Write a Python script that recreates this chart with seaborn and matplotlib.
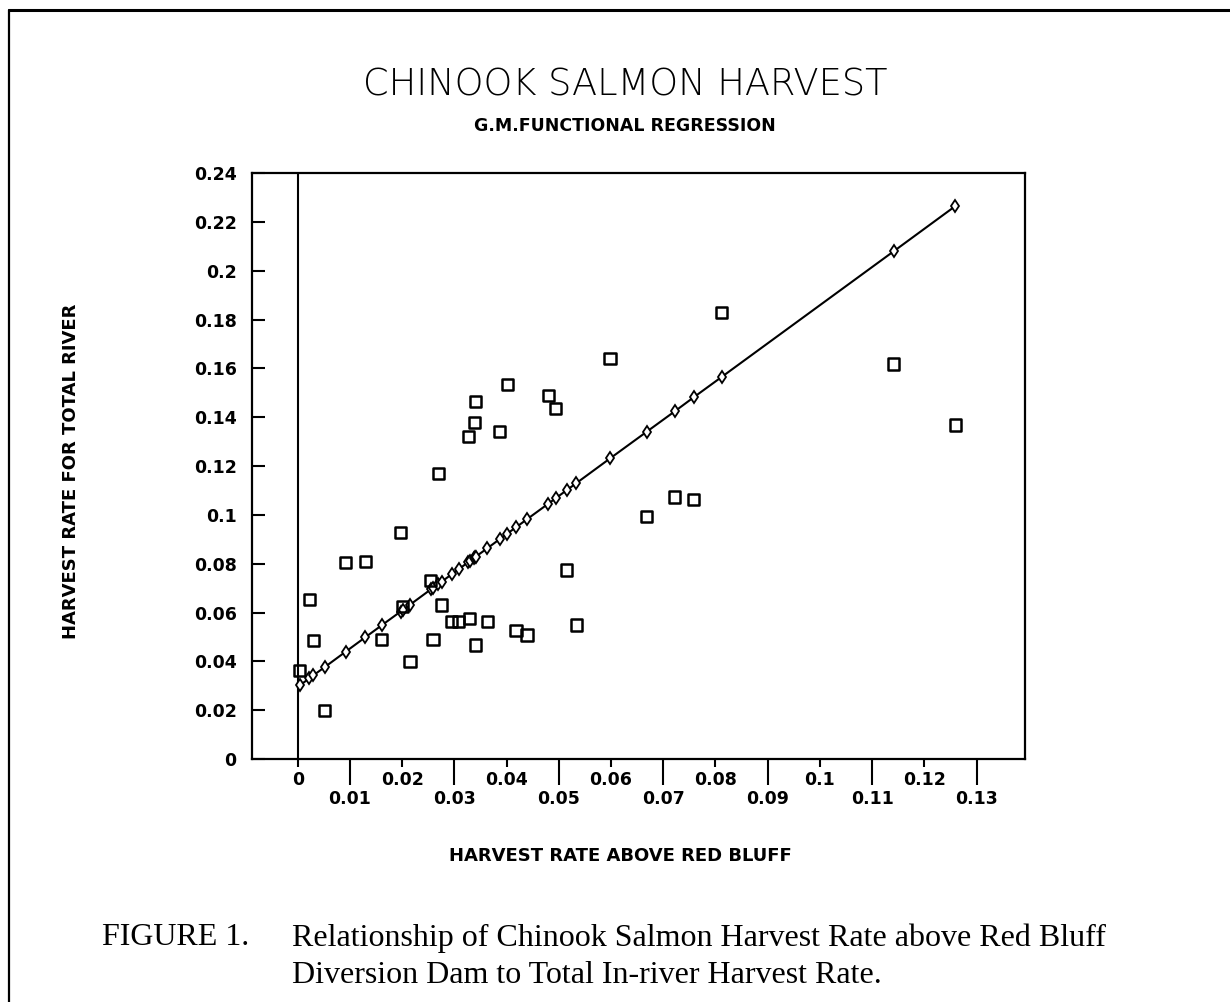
import seaborn as sns
import matplotlib.pyplot as plt
from matplotlib.lines import Line2D

# harvest rate above Red Bluff (x) and total river harvest rate (y)
above_red_bluff = [0.0004, 0.0022, 0.0030, 0.0052, 0.0092, 0.0129, 0.0161, 0.0197,
                   0.0201, 0.0215, 0.0255, 0.0259, 0.0269, 0.0276, 0.0295, 0.0308,
                   0.0327, 0.0329, 0.0338, 0.0341, 0.0340, 0.0363, 0.0387, 0.0401,
                   0.0418, 0.0439, 0.0480, 0.0494, 0.0515, 0.0533, 0.0598, 0.0668,
                   0.0722, 0.0758, 0.0812, 0.1141, 0.1259]
total_river = [0.0364, 0.0655, 0.0487, 0.0198, 0.0804, 0.0808, 0.0491, 0.0929,
               0.0625, 0.0400, 0.0730, 0.0490, 0.1170, 0.0631, 0.0562, 0.0562,
               0.1320, 0.0576, 0.1380, 0.1466, 0.0467, 0.0562, 0.1343, 0.1534,
               0.0526, 0.0508, 0.1490, 0.1437, 0.0774, 0.0549, 0.1641, 0.0995,
               0.1073, 0.1063, 0.1830, 0.1618, 0.1368]
# G.M. functional regression predictions (diamonds on the line)
fitted = [0.0302, 0.0330, 0.0343, 0.0377, 0.0440, 0.0498, 0.0548, 0.0604,
          0.0610, 0.0632, 0.0695, 0.0701, 0.0716, 0.0727, 0.0757, 0.0777,
          0.0807, 0.0810, 0.0824, 0.0829, 0.0827, 0.0863, 0.0901, 0.0923,
          0.0949, 0.0982, 0.1046, 0.1068, 0.1101, 0.1129, 0.1231, 0.1340,
          0.1424, 0.1481, 0.1565, 0.2079, 0.2264]

x_major = [0, 0.02, 0.04, 0.06, 0.08, 0.10, 0.12]
x_major_labels = ['0', '0.02', '0.04', '0.06', '0.08', '0.1', '0.12']
x_minor = [0.01, 0.03, 0.05, 0.07, 0.09, 0.11, 0.13]
x_minor_labels = ['0.01', '0.03', '0.05', '0.07', '0.09', '0.11', '0.13']
y_ticks = [0, 0.02, 0.04, 0.06, 0.08, 0.10, 0.12, 0.14, 0.16, 0.18, 0.20, 0.22, 0.24]
y_labels = ['0', '0.02', '0.04', '0.06', '0.08', '0.1', '0.12', '0.14', '0.16',
            '0.18', '0.2', '0.22', '0.24']

sns.set_style("white")
plt.rcParams['font.family'] = ['DejaVu Sans']
plt.rcParams['text.color'] = 'black'

fig = plt.figure(figsize=(12.3, 10.02), dpi=100)
ax = fig.add_axes([0.2049, 0.2425, 0.6285, 0.5848])

ax.axvline(0, color='black', lw=1.5, zorder=1)

sns.lineplot(x=above_red_bluff, y=fitted, ax=ax, color='black', lw=1.5,
             estimator=None, sort=True, marker='d', markersize=6.5,
             markerfacecolor='white', markeredgecolor='black', markeredgewidth=1.3)
sns.scatterplot(x=above_red_bluff, y=total_river, ax=ax, marker='s', s=64,
                facecolors='none', edgecolor='black', linewidth=1.8, zorder=3)

ax.set_xlim(-0.00876, 0.1393)
ax.set_ylim(0, 0.24)

tick_font = dict(fontsize=12.5, fontweight='bold', color='black')
ax.set_xticks(x_major)
ax.set_xticklabels(x_major_labels, **tick_font)
ax.set_xticks(x_minor, minor=True)
ax.set_xticklabels(x_minor_labels, minor=True, **tick_font)
ax.set_yticks(y_ticks)
ax.set_yticklabels(y_labels, **tick_font)

ax.tick_params(axis='x', which='major', direction='out', length=6, width=1.5,
               pad=2.5, color='black', bottom=True)
ax.tick_params(axis='x', which='minor', direction='out', length=19, width=1.5,
               pad=3, color='black', bottom=True)
ax.tick_params(axis='y', direction='in', length=9.5, width=1.5, pad=11,
               color='black', left=True)

for spine in ax.spines.values():
    spine.set_color('black')
    spine.set_linewidth(1.6)

ax.set_xlabel('')
ax.set_ylabel('')

# titles and axis captions
fig.text(0.508, 0.916, 'CHINOOK SALMON HARVEST', ha='center', va='center',
         fontsize=26.5, fontweight='light', color='black')
fig.text(0.508, 0.874, 'G.M.FUNCTIONAL REGRESSION', ha='center', va='center',
         fontsize=12.5, fontweight='bold', color='black')
fig.text(0.0574, 0.530, 'HARVEST RATE FOR TOTAL RIVER', ha='center', va='center',
         rotation=90, fontsize=13, fontweight='bold', color='black')
fig.text(0.504, 0.1457, 'HARVEST RATE ABOVE RED BLUFF', ha='center', va='center',
         fontsize=13, fontweight='bold', color='black')

# figure caption
serif = ['Liberation Serif', 'DejaVu Serif']
fig.text(0.083, 0.064, 'FIGURE 1.', ha='left', va='center', fontsize=23,
         family=serif, color='black')
fig.text(0.2374, 0.064, 'Relationship of Chinook Salmon Harvest Rate above Red Bluff',
         ha='left', va='center', fontsize=23, family=serif, color='black')
fig.text(0.2374, 0.026, 'Diversion Dam to Total In-river Harvest Rate.',
         ha='left', va='center', fontsize=23, family=serif, color='black')

# page frame (top and left edges)
fig.add_artist(Line2D([0.0077, 1.0], [0.990, 0.990], color='black', lw=2.2,
                      transform=fig.transFigure))
fig.add_artist(Line2D([0.0077, 0.0077], [0.0, 0.990], color='black', lw=1.6,
                      transform=fig.transFigure))

plt.savefig('out.png', dpi=100)
plt.close()
